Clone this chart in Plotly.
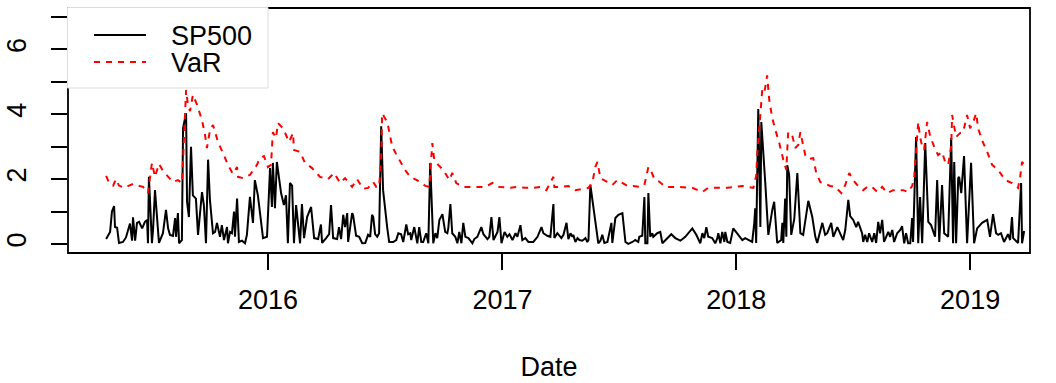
import numpy as np
import pandas as pd
import plotly.graph_objects as go

# Absolute daily S&P 500 returns (%) and the estimated VaR, time as decimal years
sp_time = [
    2015.308, 2015.325, 2015.333, 2015.342, 2015.346, 2015.355, 2015.363, 2015.380, 2015.393, 2015.402,
    2015.410, 2015.419, 2015.423, 2015.432, 2015.440, 2015.449, 2015.462, 2015.474, 2015.483, 2015.487,
    2015.491, 2015.504, 2015.509, 2015.517, 2015.526, 2015.534, 2015.551, 2015.564, 2015.573, 2015.581,
    2015.594, 2015.603, 2015.607, 2015.615, 2015.620, 2015.632, 2015.637, 2015.650, 2015.654, 2015.662,
    2015.671, 2015.679, 2015.692, 2015.701, 2015.718, 2015.726, 2015.735, 2015.744, 2015.752, 2015.765,
    2015.774, 2015.782, 2015.795, 2015.803, 2015.812, 2015.825, 2015.829, 2015.838, 2015.846, 2015.855,
    2015.859, 2015.868, 2015.876, 2015.889, 2015.902, 2015.910, 2015.923, 2015.936, 2015.944, 2015.957,
    2015.979, 2015.996, 2016.009, 2016.017, 2016.021, 2016.030, 2016.038, 2016.056, 2016.068, 2016.077,
    2016.085, 2016.094, 2016.103, 2016.111, 2016.120, 2016.124, 2016.137, 2016.145, 2016.154, 2016.167,
    2016.184, 2016.197, 2016.214, 2016.226, 2016.231, 2016.248, 2016.261, 2016.269, 2016.278, 2016.295,
    2016.303, 2016.312, 2016.321, 2016.329, 2016.338, 2016.342, 2016.359, 2016.363, 2016.376, 2016.389,
    2016.402, 2016.415, 2016.427, 2016.436, 2016.444, 2016.449, 2016.457, 2016.466, 2016.474, 2016.483,
    2016.491, 2016.509, 2016.517, 2016.534, 2016.547, 2016.556, 2016.568, 2016.577, 2016.590, 2016.598,
    2016.607, 2016.611, 2016.624, 2016.637, 2016.645, 2016.654, 2016.662, 2016.675, 2016.684, 2016.692,
    2016.705, 2016.714, 2016.722, 2016.731, 2016.744, 2016.756, 2016.765, 2016.769, 2016.778, 2016.786,
    2016.799, 2016.808, 2016.816, 2016.825, 2016.833, 2016.842, 2016.855, 2016.872, 2016.880, 2016.893,
    2016.910, 2016.919, 2016.936, 2016.944, 2016.953, 2016.962, 2016.979, 2016.987, 2016.996, 2017.009,
    2017.021, 2017.030, 2017.043, 2017.056, 2017.064, 2017.077, 2017.085, 2017.098, 2017.111, 2017.132,
    2017.150, 2017.167, 2017.175, 2017.192, 2017.205, 2017.218, 2017.222, 2017.235, 2017.252, 2017.261,
    2017.274, 2017.282, 2017.291, 2017.299, 2017.303, 2017.312, 2017.321, 2017.329, 2017.342, 2017.355,
    2017.363, 2017.368, 2017.376, 2017.410, 2017.419, 2017.427, 2017.436, 2017.449, 2017.453, 2017.466,
    2017.470, 2017.483, 2017.496, 2017.513, 2017.526, 2017.538, 2017.556, 2017.568, 2017.581, 2017.585,
    2017.598, 2017.607, 2017.611, 2017.620, 2017.624, 2017.632, 2017.641, 2017.645, 2017.662, 2017.675,
    2017.684, 2017.697, 2017.722, 2017.739, 2017.761, 2017.782, 2017.812, 2017.829, 2017.846, 2017.855,
    2017.863, 2017.872, 2017.880, 2017.897, 2017.910, 2017.919, 2017.923, 2017.932, 2017.940, 2017.949,
    2017.953, 2017.962, 2017.974, 2017.987, 2018.004, 2018.026, 2018.038, 2018.051, 2018.068, 2018.077,
    2018.081, 2018.085, 2018.094, 2018.103, 2018.107, 2018.124, 2018.137, 2018.154, 2018.162, 2018.175,
    2018.192, 2018.197, 2018.201, 2018.209, 2018.214, 2018.218, 2018.226, 2018.235, 2018.248, 2018.261,
    2018.274, 2018.286, 2018.308, 2018.325, 2018.338, 2018.346, 2018.368, 2018.380, 2018.389, 2018.406,
    2018.415, 2018.432, 2018.444, 2018.457, 2018.466, 2018.479, 2018.487, 2018.500, 2018.513, 2018.521,
    2018.538, 2018.543, 2018.551, 2018.560, 2018.568, 2018.581, 2018.590, 2018.598, 2018.607, 2018.615,
    2018.624, 2018.632, 2018.650, 2018.658, 2018.667, 2018.675, 2018.688, 2018.701, 2018.709, 2018.718,
    2018.726, 2018.735, 2018.744, 2018.752, 2018.756, 2018.769, 2018.778, 2018.786, 2018.795, 2018.808,
    2018.821, 2018.833, 2018.850, 2018.859, 2018.868, 2018.880, 2018.889, 2018.906, 2018.919, 2018.927,
    2018.932, 2018.940, 2018.949, 2018.953, 2018.962, 2018.966, 2018.974, 2018.987, 2019.004, 2019.017,
    2019.030, 2019.051, 2019.073, 2019.085, 2019.098, 2019.111, 2019.120, 2019.132, 2019.145, 2019.162,
    2019.171, 2019.179, 2019.184, 2019.205, 2019.218, 2019.222, 2019.231,
]
sp_abs = [
    0.15, 0.37, 1.00, 1.17, 0.52, 0.50, 0.03, 0.06, 0.20, 0.48,
    0.63, 0.10, 0.82, 0.10, 0.65, 0.68, 0.48, 0.68, 0.74, 0.02,
    2.07, 0.02, 0.48, 1.66, 0.74, 0.03, 0.33, 1.05, 0.48, 0.28,
    0.25, 0.80, 0.22, 0.95, 0.02, 0.12, 3.57, 4.03, 1.30, 0.83,
    3.00, 1.50, 1.40, 0.28, 1.60, 1.20, 0.02, 2.60, 1.35, 0.33,
    0.37, 0.65, 0.22, 0.58, 0.12, 0.52, 0.02, 0.37, 0.33, 1.00,
    0.22, 1.40, 0.06, 0.10, 0.02, 0.28, 1.45, 0.65, 1.97, 1.50,
    0.18, 0.22, 2.34, 1.14, 2.50, 1.10, 2.53, 1.57, 1.20, 1.50,
    0.02, 1.88, 1.80, 0.02, 1.20, 0.95, 0.02, 1.23, 0.18, 0.83,
    1.14, 0.18, 0.15, 0.60, 0.03, 0.18, 0.30, 1.20, 0.18, 0.15,
    0.52, 0.15, 0.90, 0.52, 0.95, 0.06, 0.95, 0.90, 0.25, 0.22,
    0.02, 0.03, 0.28, 0.22, 0.90, 0.83, 0.30, 0.22, 0.33, 3.63,
    1.66, 0.48, 0.06, 0.06, 0.12, 0.33, 0.30, 0.06, 0.60, 0.30,
    0.33, 0.12, 0.52, 0.02, 0.52, 0.06, 0.06, 0.33, 0.02, 2.50,
    0.02, 0.33, 0.18, 0.74, 0.92, 0.37, 0.33, 0.48, 1.23, 0.33,
    0.22, 0.02, 0.37, 0.02, 0.65, 0.22, 0.18, 0.02, 0.15, 0.22,
    0.52, 0.30, 0.15, 0.22, 0.83, 0.12, 0.37, 0.83, 0.02, 0.37,
    0.22, 0.30, 0.12, 0.33, 0.22, 0.58, 0.12, 0.18, 0.06, 0.06,
    0.22, 0.52, 0.33, 0.25, 0.22, 1.23, 0.18, 0.33, 0.18, 0.28,
    0.65, 0.15, 0.33, 0.22, 0.28, 0.06, 0.18, 0.12, 0.10, 0.18,
    0.06, 0.12, 1.82, 0.02, 0.10, 0.28, 0.03, 0.06, 0.18, 0.65,
    0.03, 0.80, 0.90, 0.95, 0.06, 0.00, 0.06, 0.12, 0.06, 0.22,
    0.25, 1.45, 0.02, 0.02, 1.57, 0.22, 0.33, 0.22, 0.33, 0.37,
    0.02, 0.12, 0.30, 0.18, 0.10, 0.22, 0.48, 0.28, 0.02, 0.33,
    0.18, 0.52, 0.22, 0.18, 0.02, 0.18, 0.33, 0.02, 0.37, 0.06,
    0.37, 0.06, 0.03, 0.48, 0.33, 0.12, 0.18, 0.12, 0.06, 0.65,
    1.10, 0.03, 4.16, 0.52, 3.76, 1.88, 0.28, 1.05, 1.30, 0.03,
    0.12, 0.65, 0.03, 1.40, 0.22, 2.43, 2.13, 0.28, 0.77, 2.19,
    0.33, 0.28, 1.33, 0.83, 0.22, 0.03, 0.65, 0.28, 0.33, 0.65,
    0.22, 0.52, 0.33, 0.12, 0.43, 1.36, 0.86, 0.74, 0.52, 0.68,
    0.33, 0.06, 0.28, 0.06, 0.33, 0.06, 0.33, 0.03, 0.68, 0.33,
    0.74, 0.06, 0.37, 0.22, 0.43, 0.06, 0.33, 0.43, 0.55, 0.02,
    0.33, 0.02, 0.02, 0.80, 0.06, 3.30, 0.02, 1.45, 0.02, 3.11,
    0.68, 0.58, 0.22, 1.97, 0.06, 1.82, 0.33, 0.22, 3.27, 0.02,
    2.53, 0.02, 2.03, 2.07, 1.57, 2.07, 2.71, 0.02, 2.50, 0.02,
    0.48, 0.65, 0.74, 0.22, 0.92, 0.33, 0.28, 0.33, 0.06, 0.30,
    0.12, 0.83, 0.18, 0.03, 1.88, 0.02, 0.40,
]

var_time = [
    2015.308, 2015.321, 2015.338, 2015.350, 2015.363, 2015.385, 2015.406, 2015.423, 2015.444, 2015.466,
    2015.487, 2015.496, 2015.504, 2015.517, 2015.534, 2015.551, 2015.573, 2015.594, 2015.615, 2015.632,
    2015.637, 2015.645, 2015.650, 2015.658, 2015.667, 2015.679, 2015.697, 2015.718, 2015.731, 2015.739,
    2015.752, 2015.765, 2015.786, 2015.808, 2015.829, 2015.850, 2015.868, 2015.872, 2015.893, 2015.923,
    2015.936, 2015.953, 2015.966, 2015.983, 2016.000, 2016.013, 2016.021, 2016.034, 2016.043, 2016.064,
    2016.090, 2016.107, 2016.111, 2016.137, 2016.158, 2016.188, 2016.222, 2016.256, 2016.282, 2016.308,
    2016.329, 2016.359, 2016.380, 2016.406, 2016.427, 2016.449, 2016.462, 2016.474, 2016.483, 2016.487,
    2016.509, 2016.530, 2016.556, 2016.585, 2016.607, 2016.628, 2016.650, 2016.671, 2016.688, 2016.701,
    2016.709, 2016.726, 2016.748, 2016.774, 2016.786, 2016.803, 2016.833, 2016.863, 2016.893, 2016.927,
    2016.957, 2016.983, 2017.034, 2017.064, 2017.098, 2017.132, 2017.162, 2017.188, 2017.218, 2017.222,
    2017.248, 2017.282, 2017.312, 2017.368, 2017.385, 2017.397, 2017.406, 2017.419, 2017.449, 2017.470,
    2017.491, 2017.534, 2017.560, 2017.585, 2017.607, 2017.620, 2017.624, 2017.632, 2017.650, 2017.667,
    2017.697, 2017.752, 2017.812, 2017.855, 2017.880, 2017.923, 2017.962, 2017.996, 2018.026, 2018.073,
    2018.085, 2018.090, 2018.103, 2018.111, 2018.120, 2018.132, 2018.141, 2018.154, 2018.167, 2018.184,
    2018.201, 2018.214, 2018.218, 2018.222, 2018.239, 2018.252, 2018.265, 2018.274, 2018.295, 2018.308,
    2018.329, 2018.342, 2018.359, 2018.380, 2018.402, 2018.423, 2018.449, 2018.466, 2018.483, 2018.500,
    2018.517, 2018.543, 2018.564, 2018.585, 2018.603, 2018.624, 2018.645, 2018.671, 2018.714, 2018.735,
    2018.752, 2018.761, 2018.769, 2018.778, 2018.786, 2018.795, 2018.803, 2018.816, 2018.829, 2018.846,
    2018.863, 2018.880, 2018.893, 2018.906, 2018.919, 2018.923, 2018.932, 2018.940, 2018.957, 2018.970,
    2018.987, 2019.000, 2019.013, 2019.026, 2019.034, 2019.051, 2019.073, 2019.094, 2019.120, 2019.150,
    2019.179, 2019.205, 2019.214, 2019.222, 2019.231,
]
var_est = [
    2.10, 1.88, 1.80, 2.00, 1.80, 1.73, 1.80, 1.85, 1.80, 1.76,
    1.57, 2.07, 2.50, 2.07, 2.47, 2.25, 2.07, 1.91, 1.97, 1.88,
    2.60, 3.92, 4.75, 4.29, 4.10, 4.60, 4.29, 3.82, 3.36, 2.96,
    3.50, 3.67, 3.15, 2.80, 2.44, 2.16, 2.37, 2.07, 2.03, 2.13,
    2.28, 2.44, 2.65, 2.71, 2.37, 2.44, 3.45, 3.27, 3.73, 3.57,
    3.15, 3.42, 2.90, 2.84, 2.50, 2.34, 2.07, 2.00, 2.19, 1.88,
    2.03, 1.76, 2.00, 1.70, 1.73, 1.91, 1.76, 1.76, 2.65, 4.03,
    3.76, 3.00, 2.65, 2.28, 2.07, 2.00, 1.91, 1.79, 1.76, 3.11,
    2.60, 2.44, 2.28, 1.97, 2.19, 1.88, 1.76, 1.76, 1.76, 1.76,
    1.88, 1.76, 1.73, 1.76, 1.73, 1.73, 1.76, 1.66, 2.07, 1.76,
    1.76, 1.79, 1.66, 1.73, 1.91, 2.37, 2.53, 2.03, 1.91, 1.82,
    1.97, 1.79, 1.79, 1.76, 1.82, 2.22, 2.37, 2.31, 2.00, 1.94,
    1.76, 1.76, 1.73, 1.60, 1.73, 1.73, 1.73, 1.76, 1.79, 1.73,
    2.10, 2.80, 4.19, 4.75, 4.66, 5.20, 4.44, 3.88, 3.52, 3.11,
    2.60, 2.28, 2.90, 3.45, 3.36, 2.96, 3.05, 3.45, 2.74, 2.62,
    2.65, 2.19, 1.91, 1.85, 1.79, 1.76, 1.57, 1.82, 2.19, 1.97,
    1.82, 1.66, 1.79, 1.73, 1.60, 1.76, 1.57, 1.66, 1.66, 1.60,
    1.79, 2.07, 3.00, 3.76, 3.30, 3.00, 2.90, 3.76, 3.33, 3.00,
    2.74, 2.84, 2.53, 2.44, 3.00, 3.98, 3.61, 3.30, 3.42, 3.45,
    3.98, 3.57, 3.76, 4.03, 3.57, 3.20, 2.84, 2.44, 2.28, 1.97,
    1.88, 1.73, 2.07, 2.53, 2.45,
]

year_ticks = [2016, 2017, 2018, 2019]
y_ticks = [0, 1, 2, 3, 4, 5, 6, 7]
y_labels = ["0", "", "2", "", "4", "", "6", ""]
series_names = ["SP500", "VaR"]


def to_date(t):
    y = int(np.floor(t))
    start = pd.Timestamp(y, 1, 1)
    end = pd.Timestamp(y + 1, 1, 1)
    return start + (end - start) * (t - y)


sp_dates = [to_date(t) for t in sp_time]
var_dates = [to_date(t) for t in var_time]

FONT = "Liberation Sans, Arial, Helvetica, sans-serif"
W, H = 1056, 383
L, R, T, B = 68, 1030, 8, 253


def fx(px):
    return (px - L) / (R - L)


def fy(py):
    return (B - py) / (B - T)


fig = go.Figure()
fig.add_trace(go.Scatter(x=sp_dates, y=sp_abs, mode="lines", name=series_names[0],
                         line=dict(color="black", width=2), showlegend=False))
fig.add_trace(go.Scatter(x=var_dates, y=var_est, mode="lines", name=series_names[1],
                         line=dict(color="#ff0000", width=2, dash="6px,6px"), showlegend=False))

shapes = [
    # plot frame
    dict(type="rect", xref="paper", yref="paper", x0=0, x1=1, y0=0, y1=1,
         fillcolor="rgba(0,0,0,0)", line=dict(color="black", width=1.8), layer="above"),
    # legend panel drawn over the frame
    dict(type="rect", xref="paper", yref="paper", x0=fx(67.5), x1=fx(268), y0=fy(88), y1=fy(7.5),
         fillcolor="white", line=dict(color="#dddddd", width=1), layer="above"),
    dict(type="line", xref="paper", yref="paper", x0=fx(94), x1=fx(146), y0=fy(35), y1=fy(35),
         line=dict(color="black", width=2), layer="above"),
    dict(type="line", xref="paper", yref="paper", x0=fx(94), x1=fx(146), y0=fy(62), y1=fy(62),
         line=dict(color="#ff0000", width=2, dash="6px,6px"), layer="above"),
]
annotations = [
    dict(xref="paper", yref="paper", x=fx(170), y=fy(36), text=series_names[0], showarrow=False,
         xanchor="left", yanchor="middle", borderpad=0,
         font=dict(family=FONT, size=27, color="black")),
    dict(xref="paper", yref="paper", x=fx(170), y=fy(63), text=series_names[1], showarrow=False,
         xanchor="left", yanchor="middle", borderpad=0,
         font=dict(family=FONT, size=27, color="black")),
]

fig.update_layout(
    width=W, height=H,
    margin=dict(l=L, r=W - R, t=T, b=H - B, autoexpand=False),
    paper_bgcolor="white", plot_bgcolor="white",
    font=dict(family=FONT, size=27, color="black"),
    shapes=shapes, annotations=annotations,
    showlegend=False,
)
fig.update_xaxes(
    range=[to_date(2015.145), to_date(2019.256)],
    tickvals=[pd.Timestamp(y, 1, 1) for y in year_ticks],
    ticktext=[str(y) for y in year_ticks],
    ticks="outside", ticklen=16, tickwidth=1.5, tickcolor="black",
    ticklabelstandoff=7, automargin=False,
    showline=False, showgrid=False, zeroline=False,
    title=dict(text="Date", font=dict(family=FONT, size=27), standoff=42),
    tickfont=dict(family=FONT, size=27),
)
fig.update_yaxes(
    range=[-0.28, 7.28],
    tickvals=y_ticks, ticktext=y_labels, tickangle=-90,
    ticks="outside", ticklen=16, tickwidth=1.5, tickcolor="black",
    ticklabelstandoff=14, automargin=False,
    showline=False, showgrid=False, zeroline=False,
    tickfont=dict(family=FONT, size=27),
)

fig.write_html("out.html")
